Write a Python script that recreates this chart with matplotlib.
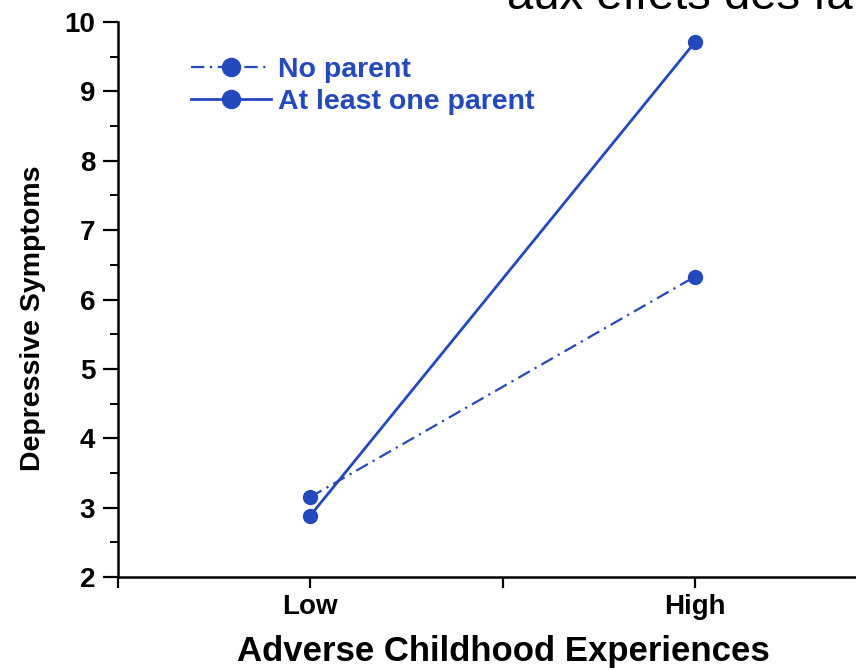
import matplotlib
matplotlib.use("Agg")
import matplotlib.pyplot as plt
from matplotlib.ticker import MultipleLocator, FixedLocator

categories = ["Low", "High"]
cat_pos = [1, 3]
no_parent = [3.15, 6.33]
one_parent = [2.88, 9.71]
series_labels = ["No parent", "At least one parent"]
title_fragment = "aux effets des fa"

blue = "#2349BD"
bold = ["Liberation Sans", "DejaVu Sans"]

fig = plt.figure(figsize=(8.56, 6.70), dpi=100)
W, H = 856, 670
left, right, top, bottom = 117.5, 887.5, 22, 577
ax = fig.add_axes([left / W, 1 - bottom / H, (right - left) / W, (bottom - top) / H])
ax.patch.set_alpha(0)

ax.plot(cat_pos, no_parent, color=blue, lw=1.6, ls=(0, (6, 2.5, 1, 2.5)), marker="o", ms=10,
        label=series_labels[0], clip_on=False, zorder=3)
ax.plot(cat_pos, one_parent, color=blue, lw=2.0, ls="-", marker="o", ms=10,
        label=series_labels[1], clip_on=False, zorder=3)

ax.set_xlim(0, 4)
ax.set_ylim(2, 10)
ax.yaxis.set_major_locator(MultipleLocator(1))
ax.yaxis.set_minor_locator(MultipleLocator(0.5))
ax.xaxis.set_major_locator(FixedLocator([0, 1, 2, 3, 4]))
ax.set_xticklabels(["", categories[0], "", categories[1], ""])

for s in ["top", "right"]:
    ax.spines[s].set_visible(False)
for s in ["left", "bottom"]:
    ax.spines[s].set_linewidth(1.8)
    ax.spines[s].set_color("black")

ax.tick_params(axis="y", which="major", direction="out", length=11, width=1.6, pad=5)
ax.tick_params(axis="y", which="minor", direction="out", length=6, width=1.4)
ax.tick_params(axis="x", which="major", direction="out", length=8, width=1.6, pad=4)
for lab in ax.get_yticklabels():
    lab.set_fontfamily(bold)
    lab.set_fontweight("bold")
    lab.set_fontsize(20)
for lab in ax.get_xticklabels():
    lab.set_fontfamily(bold)
    lab.set_fontweight("bold")
    lab.set_fontsize(20)

ax.set_xlabel("Adverse Childhood Experiences", fontfamily=bold, fontweight="bold", fontsize=25)
ax.xaxis.set_label_coords((503 - left) / (right - left), -(635 - bottom) / (bottom - top))
ax.set_ylabel("Depressive Symptoms", fontfamily=bold, fontweight="bold", fontsize=20.5)
ax.yaxis.set_label_coords(-(117.5 - 46) / (right - left), (bottom - 318) / (bottom - top))

leg = ax.legend(loc="upper left", bbox_to_anchor=((180 - left) / (right - left), 1 - (46 - top) / (bottom - top)),
                frameon=False, handlelength=2.8, handletextpad=0.25, labelspacing=0.2,
                markerscale=1.3, borderaxespad=0,
                prop={"family": bold, "weight": "bold", "size": 20.5})
for t in leg.get_texts():
    t.set_color(blue)

fig.text(507 / W, 1 - 9 / H, title_fragment, fontsize=34, fontfamily=["Liberation Sans", "DejaVu Sans"],
         va="baseline", ha="left", color="black")

fig.savefig("out.png", dpi=100)
